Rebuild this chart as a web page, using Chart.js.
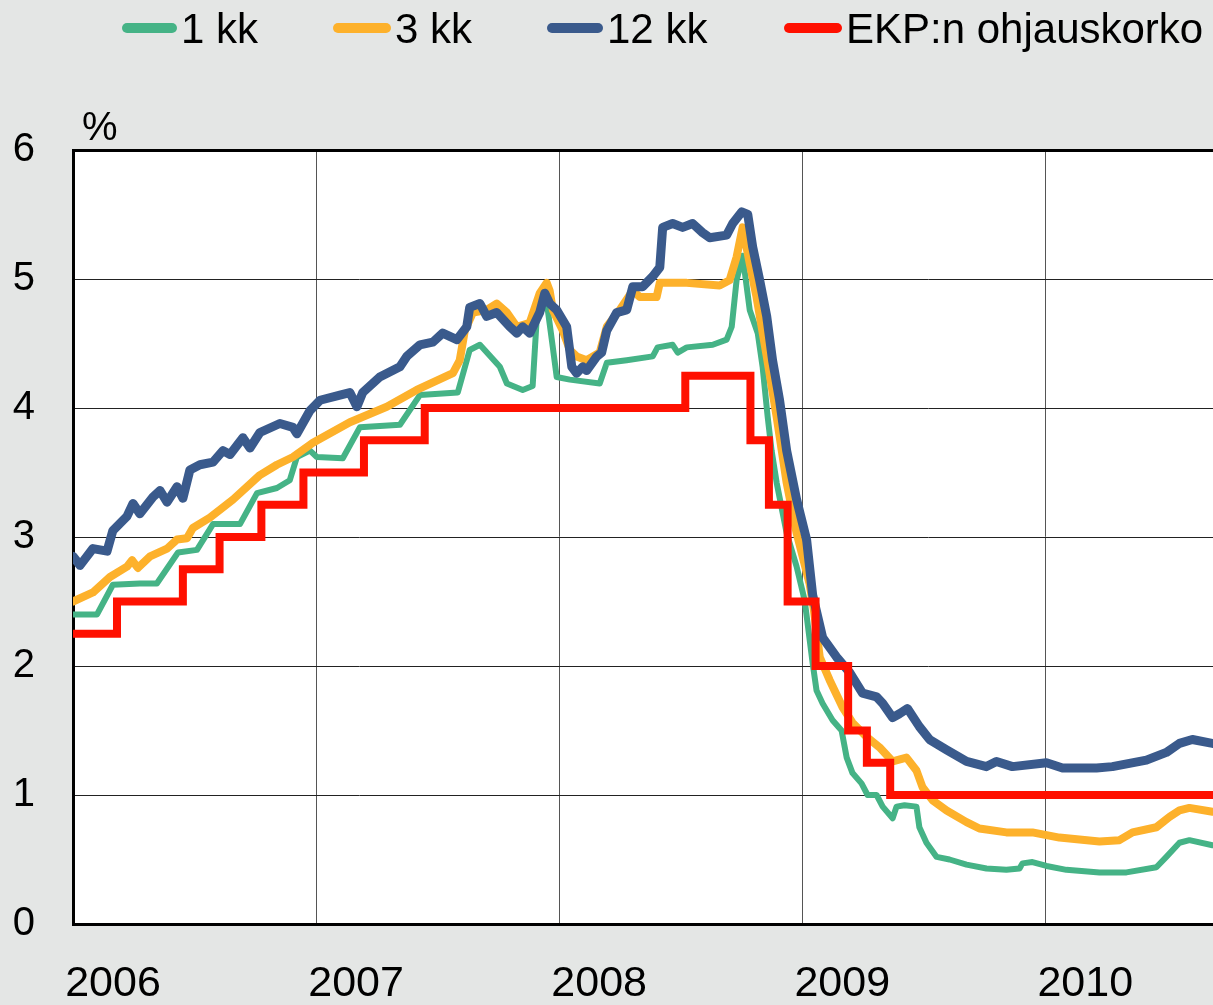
<!DOCTYPE html>
<html><head><meta charset="utf-8">
<script src="https://cdn.jsdelivr.net/npm/chart.js@4.4.0/dist/chart.umd.min.js"></script>
<style>
html,body{margin:0;padding:0;background:#e4e6e5;width:1213px;height:1005px;overflow:hidden;font-family:"Liberation Sans",Arial,sans-serif;}
#wrap{position:relative;width:1213px;height:1005px;}
canvas{position:absolute;left:0;top:0;}
.lgt{position:absolute;font-size:42px;line-height:42px;color:#000;white-space:nowrap;}
.lgs{position:absolute;height:10px;border-radius:5px;}
#unit{position:absolute;left:82px;top:106px;font-size:40px;line-height:40px;color:#000;}
</style></head>
<body><div id="wrap"><canvas id="c" width="1213" height="1005"></canvas><div id="unit">%</div><div id="legend"></div></div>
<script>
const seriesNames = ['1 kk', '3 kk', '12 kk', 'EKP:n ohjauskorko'];
const yearTicks = [2006, 2007, 2008, 2009, 2010];
const yTicks = [0, 1, 2, 3, 4, 5, 6];

const oneMonthDates = [2006.000,2006.099,2006.164,2006.275,2006.345,2006.432,2006.510,2006.576,2006.687,2006.757,2006.839,2006.892,2006.921,2006.975,2007.003,2007.110,2007.180,2007.345,2007.427,2007.583,2007.632,2007.674,2007.756,2007.785,2007.850,2007.891,2007.908,2007.949,2007.974,2007.990,2008.044,2008.167,2008.196,2008.278,2008.385,2008.405,2008.467,2008.488,2008.525,2008.632,2008.689,2008.710,2008.730,2008.755,2008.784,2008.817,2008.837,2008.858,2008.874,2008.895,2008.936,2008.977,2009.010,2009.043,2009.059,2009.084,2009.125,2009.162,2009.183,2009.207,2009.244,2009.269,2009.306,2009.331,2009.372,2009.388,2009.421,2009.470,2009.482,2009.511,2009.553,2009.606,2009.676,2009.758,2009.840,2009.894,2009.906,2009.947,2010.005,2010.087,2010.223,2010.334,2010.457,2010.498,2010.552,2010.593,2010.688];
const oneMonthValues = [2.40,2.40,2.63,2.64,2.64,2.88,2.90,3.10,3.10,3.34,3.38,3.44,3.62,3.67,3.62,3.61,3.85,3.87,4.10,4.12,4.45,4.49,4.32,4.19,4.14,4.17,4.70,4.82,4.47,4.24,4.22,4.19,4.35,4.37,4.40,4.47,4.49,4.43,4.47,4.49,4.53,4.63,4.99,5.18,4.76,4.58,4.32,3.93,3.67,3.42,3.03,2.77,2.51,2.02,1.81,1.71,1.58,1.50,1.29,1.17,1.09,1.00,1.00,0.91,0.82,0.91,0.92,0.91,0.75,0.63,0.52,0.50,0.46,0.43,0.42,0.43,0.47,0.48,0.45,0.42,0.40,0.40,0.44,0.52,0.63,0.65,0.61];

const threeMonthDates = [2006.000,2006.082,2006.152,2006.222,2006.243,2006.267,2006.317,2006.387,2006.428,2006.469,2006.493,2006.563,2006.658,2006.769,2006.839,2006.905,2006.987,2007.139,2007.291,2007.414,2007.563,2007.591,2007.612,2007.645,2007.702,2007.743,2007.785,2007.826,2007.879,2007.920,2007.949,2007.961,2007.974,2008.015,2008.044,2008.072,2008.113,2008.167,2008.196,2008.249,2008.303,2008.332,2008.401,2008.414,2008.525,2008.660,2008.701,2008.730,2008.755,2008.784,2008.812,2008.854,2008.895,2008.936,2008.977,2009.030,2009.047,2009.072,2009.113,2009.166,2009.207,2009.265,2009.318,2009.372,2009.429,2009.470,2009.495,2009.536,2009.594,2009.676,2009.729,2009.840,2009.947,2010.058,2010.223,2010.305,2010.359,2010.457,2010.511,2010.552,2010.593,2010.688];
const threeMonthValues = [2.50,2.57,2.69,2.77,2.82,2.76,2.85,2.91,2.98,2.99,3.07,3.15,3.29,3.48,3.56,3.62,3.73,3.89,4.01,4.14,4.27,4.37,4.60,4.74,4.76,4.81,4.74,4.63,4.66,4.89,4.97,4.91,4.76,4.60,4.45,4.40,4.37,4.43,4.63,4.76,4.91,4.86,4.86,4.97,4.97,4.95,4.99,5.17,5.40,5.12,4.86,4.40,3.93,3.42,3.03,2.64,2.45,2.07,1.89,1.68,1.56,1.45,1.37,1.26,1.29,1.19,1.06,0.96,0.88,0.79,0.74,0.71,0.71,0.67,0.64,0.65,0.71,0.75,0.83,0.88,0.90,0.87];

const twelveMonthDates = [2006.000,2006.029,2006.082,2006.140,2006.164,2006.222,2006.247,2006.275,2006.329,2006.358,2006.387,2006.428,2006.452,2006.481,2006.522,2006.576,2006.617,2006.646,2006.699,2006.728,2006.769,2006.851,2006.905,2006.921,2006.975,2007.016,2007.098,2007.139,2007.168,2007.192,2007.262,2007.345,2007.373,2007.427,2007.480,2007.521,2007.579,2007.620,2007.632,2007.674,2007.702,2007.743,2007.797,2007.826,2007.850,2007.879,2007.920,2007.941,2007.961,2007.990,2008.031,2008.052,2008.072,2008.097,2008.113,2008.155,2008.175,2008.196,2008.237,2008.278,2008.303,2008.344,2008.385,2008.414,2008.426,2008.467,2008.508,2008.549,2008.590,2008.619,2008.689,2008.714,2008.751,2008.776,2008.796,2008.825,2008.854,2008.878,2008.907,2008.936,2008.977,2009.018,2009.043,2009.084,2009.141,2009.195,2009.248,2009.306,2009.331,2009.372,2009.400,2009.433,2009.482,2009.524,2009.594,2009.676,2009.758,2009.799,2009.865,2010.005,2010.071,2010.211,2010.276,2010.416,2010.498,2010.552,2010.605,2010.688];
const twelveMonthValues = [2.85,2.78,2.91,2.89,3.05,3.16,3.26,3.18,3.31,3.36,3.27,3.39,3.30,3.52,3.56,3.58,3.67,3.64,3.77,3.69,3.81,3.88,3.85,3.80,3.98,4.06,4.10,4.12,4.01,4.12,4.24,4.32,4.40,4.49,4.51,4.58,4.53,4.63,4.78,4.81,4.71,4.74,4.63,4.58,4.63,4.58,4.74,4.89,4.81,4.76,4.63,4.32,4.27,4.32,4.29,4.40,4.43,4.60,4.74,4.76,4.94,4.94,5.02,5.09,5.40,5.43,5.40,5.43,5.36,5.32,5.34,5.43,5.52,5.50,5.25,4.99,4.71,4.37,4.06,3.67,3.29,2.98,2.55,2.22,2.07,1.95,1.79,1.76,1.71,1.60,1.63,1.67,1.53,1.43,1.35,1.26,1.22,1.26,1.22,1.25,1.21,1.21,1.22,1.27,1.33,1.40,1.43,1.40];

const ecbDates = [2006.000,2006.181,2006.452,2006.603,2006.775,2006.948,2007.197,2007.447,2008.519,2008.787,2008.863,2008.940,2009.055,2009.189,2009.266,2009.362,2010.690];
const ecbValues = [2.25,2.50,2.75,3.00,3.25,3.50,3.75,4.00,4.25,3.75,3.25,2.50,2.00,1.50,1.25,1.00,1.00];

const xMin = 2006, xMax = 2010.69;
const colors = ['#45b386', '#fdb12b', '#3a5a8c', '#ff1000'];
const widths = [6, 8, 9, 8];
const legendPos = [{s:122, t:181}, {s:333, t:395}, {s:547, t:607}, {s:784, t:846}];

function pts(xs, ys) { return xs.map((x, i) => ({x: x, y: ys[i]})); }

const seriesData = [
  pts(oneMonthDates, oneMonthValues),
  pts(threeMonthDates, threeMonthValues),
  pts(twelveMonthDates, twelveMonthValues),
  pts(ecbDates, ecbValues)
];

Chart.defaults.font.family = '"Liberation Sans", Arial, sans-serif';
Chart.defaults.color = '#000';

const plotBg = {
  id: 'plotBg',
  beforeDraw(chart) {
    const a = chart.chartArea, ctx = chart.ctx;
    ctx.save(); ctx.fillStyle = '#ffffff';
    ctx.fillRect(a.left, a.top, a.right - a.left, a.bottom - a.top);
    ctx.restore();
  }
};

const datasets = seriesData.map((d, i) => ({
  label: seriesNames[i],
  data: d,
  borderColor: colors[i],
  backgroundColor: colors[i],
  borderWidth: widths[i],
  pointRadius: 0,
  tension: 0,
  fill: false,
  stepped: i === 3 ? true : false,
  borderJoinStyle: i === 3 ? 'miter' : 'round',
  borderCapStyle: i === 3 ? 'butt' : 'round',
  order: 4 - i
}));

new Chart(document.getElementById('c'), {
  type: 'line',
  data: { datasets: datasets },
  options: {
    responsive: false,
    animation: false,
    devicePixelRatio: 1,
    layout: { padding: { top: 150, left: 0, right: 0, bottom: 0 } },
    plugins: { legend: { display: false }, tooltip: { enabled: false } },
    scales: {
      x: {
        type: 'linear', min: xMin, max: xMax,
        afterFit(s) { s.height = 81; s.paddingLeft = 0; s.paddingRight = 0; },
        afterBuildTicks(s) { s.ticks = yearTicks.map(v => ({ value: v })); },
        ticks: { font: { size: 43 }, padding: 34, labelOffset: 40, maxRotation: 0, autoSkip: false, callback: v => String(v), color: '#000' },
        grid: { color: '#555', lineWidth: 1, drawTicks: false },
        border: { color: '#000', width: 3 }
      },
      y: {
        min: 0, max: 6,
        afterFit(s) { s.width = 73; s.paddingTop = 0; s.paddingBottom = 0; },
        afterBuildTicks(s) { s.ticks = yTicks.map(v => ({ value: v })); },
        ticks: { font: { size: 40 }, padding: 38, color: '#000' },
        grid: { color: c => (c.tick && c.tick.value === 6 ? '#000' : '#222'), lineWidth: c => (c.tick && c.tick.value === 6 ? 3 : 1), drawTicks: false },
        border: { color: '#000', width: 3 }
      }
    }
  },
  plugins: [plotBg]
});

const lg = document.getElementById('legend');
seriesNames.forEach((name, i) => {
  const s = document.createElement('div');
  s.className = 'lgs';
  s.style.left = legendPos[i].s + 'px';
  s.style.top = '23px';
  s.style.width = (legendPos[i].t - legendPos[i].s - 4) + 'px';
  s.style.background = colors[i];
  lg.appendChild(s);
  const t = document.createElement('div');
  t.className = 'lgt';
  t.style.left = legendPos[i].t + 'px';
  t.style.top = '8px';
  t.textContent = name;
  lg.appendChild(t);
});
</script>
</body></html>
